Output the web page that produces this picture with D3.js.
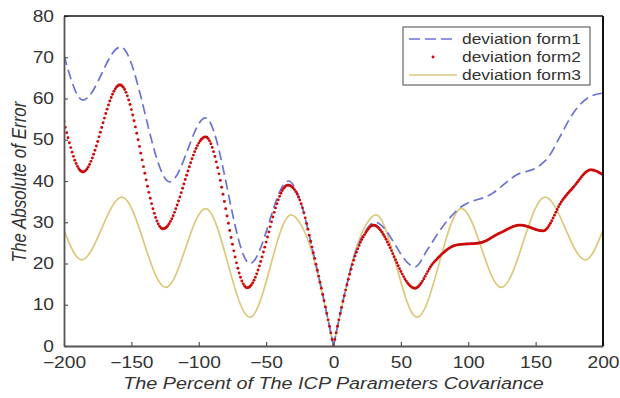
<!DOCTYPE html>
<html><head><meta charset="utf-8">
<script src="https://cdn.jsdelivr.net/npm/d3@7"></script>
<style>body{margin:0;background:#fff}</style>
</head><body>
<svg id="c" width="620" height="398"></svg>
<script>
const xTicks = [-200,-150,-100,-50,0,50,100,150,200];
const yTicks = [0,10,20,30,40,50,60,70,80];
const seriesNames = ["deviation form1","deviation form2","deviation form3"];

const form1X = [-200,-186,-158,-121.5,-95,-62,-33.5,-24,-16,-8,0,8,16,24,30.8,60.5,70,80,92,118,136,152,160,168,178,190,200];
const form1Y = [70.5,59.6,72.5,39.8,55.3,20,40,34.5,24,12.5,0,12.3,22.3,28,30,19.2,23.5,28.5,33,37,41.5,43.5,46,50.7,56.5,60.4,61.3];

const form2X = [-200,-186,-158.4,-126.5,-95,-64,-33.8,-24,-16,-8,0,8,16,24,29.5,60.5,74,91.6,108.7,123.6,138.4,155.5,170,178,191,200];
const form2Y = [54.3,42.2,63.3,28.4,50.7,14.1,39,34.5,24,12.5,0,12.2,21.8,27.5,29.3,14,20.1,24.5,25,27.4,29.3,27.9,35.4,38.5,42.7,41.5];

const form3X = [-200,-187,-157,-124.5,-95,-62,-31.5,-24,-16,-8,0,8,16,24,31.5,62,95,124.5,157,187,200];
const form3Y = [28.1,20.9,36.1,14.2,33.3,7,31.8,29.3,22.8,12.2,0,12.2,22.8,29.3,31.8,7,33.3,14.2,36.1,20.9,28.1];

const W = 620, H = 398;
const m = {l:64, t:16, r:17, b:52};
const svg = d3.select("#c");
const x = d3.scaleLinear().domain([-200,200]).range([m.l, W-m.r]);
const y = d3.scaleLinear().domain([0,80]).range([H-m.b, m.t]);

svg.append("defs").append("clipPath").attr("id","clip")
  .append("rect").attr("x",m.l).attr("y",m.t-2).attr("width",W-m.r-m.l).attr("height",H-m.b-m.t+2);

function toPts(xs, ys){ return xs.map((v,i)=>({x:v,y:ys[i]})); }
function split(pts){ return [pts.filter(p=>p.x<=0), pts.filter(p=>p.x>=0)]; }

// monotone cubic (same slopes as d3.curveMonotoneX)
function sgn(v){ return v<0?-1:1; }
function monotone(pts){
  const n=pts.length, t=new Array(n).fill(0);
  for(let i=1;i<n-1;i++){
    const h0=pts[i].x-pts[i-1].x, h1=pts[i+1].x-pts[i].x;
    const s0=(pts[i].y-pts[i-1].y)/h0, s1=(pts[i+1].y-pts[i].y)/h1;
    const p=(s0*h1+s1*h0)/(h0+h1);
    t[i]=(sgn(s0)+sgn(s1))*Math.min(Math.abs(s0),Math.abs(s1),0.5*Math.abs(p))||0;
  }
  if(n>2){
    let h=pts[1].x-pts[0].x; t[0]=(3*(pts[1].y-pts[0].y)/h - t[1])/2;
    h=pts[n-1].x-pts[n-2].x; t[n-1]=(3*(pts[n-1].y-pts[n-2].y)/h - t[n-2])/2;
  }
  return function(xv){
    let i=0; while(i<n-2 && xv>pts[i+1].x) i++;
    const x0=pts[i].x,x1=pts[i+1].x,h=x1-x0,s=(xv-x0)/h;
    const h00=2*s*s*s-3*s*s+1,h10=s*s*s-2*s*s+s,h01=-2*s*s*s+3*s*s,h11=s*s*s-s*s;
    return h00*pts[i].y+h10*h*t[i]+h01*pts[i+1].y+h11*h*t[i+1];
  };
}

const line = d3.line().x(d=>x(d.x)).y(d=>y(d.y)).curve(d3.curveMonotoneX);
const plot = svg.append("g").attr("clip-path","url(#clip)");

const c1="#6b72d4", c2="#cc0a0a", c3="#dcc87c";

// form3 (yellow solid)
split(toPts(form3X,form3Y)).forEach(seg=>{
  plot.append("path").datum(seg).attr("d",line).attr("fill","none")
    .attr("stroke",c3).attr("stroke-width",1.7);
});
// form1 (blue dashed)
split(toPts(form1X,form1Y)).forEach(seg=>{
  plot.append("path").datum(seg).attr("d",line).attr("fill","none")
    .attr("stroke",c1).attr("stroke-width",1.7).attr("stroke-dasharray","10,5");
});
// form2 (red dots, one per unit in x)
const f2 = split(toPts(form2X,form2Y)).map(monotone);
const dotXs = d3.range(-200,200.5,1);
plot.append("g").selectAll("circle").data(dotXs).join("circle")
  .attr("cx",d=>x(d)).attr("cy",d=>y(d<=0?f2[0](d):f2[1](d)))
  .attr("r",1.45).attr("fill",c2);

// axes
const fontFam = "'Liberation Sans', Arial, sans-serif";
const xAxis = svg.append("g").attr("transform",`translate(0,${H-m.b})`)
  .call(d3.axisBottom(x).tickValues(xTicks).tickSize(-4).tickPadding(11).tickSizeOuter(0));
const yAxis = svg.append("g").attr("transform",`translate(${m.l},0)`)
  .call(d3.axisLeft(y).tickValues(yTicks).tickSize(-4).tickSizeOuter(0));
[xAxis,yAxis].forEach(a=>{
  a.select(".domain").attr("stroke","#555").attr("stroke-width",1.8);
  a.selectAll(".tick line").attr("stroke","#555").attr("stroke-width",1.2);
  a.selectAll("text").attr("fill","#333").style("font-family",fontFam).style("font-size","16px");
});
xAxis.selectAll("text").attr("transform","scale(1.2,1)");
yAxis.selectAll("text").attr("x",0).attr("transform","translate(-10,0) scale(1.2,1)");

// top & right box
svg.append("line").attr("x1",m.l).attr("x2",W-m.r).attr("y1",m.t).attr("y2",m.t)
  .attr("stroke","#111").attr("stroke-width",1.6);
svg.append("line").attr("x1",W-m.r).attr("x2",W-m.r).attr("y1",m.t).attr("y2",H-m.b)
  .attr("stroke","#111").attr("stroke-width",2);

// titles
svg.append("text").attr("transform",`translate(${(m.l+W-m.r)/2},389) scale(1.2,1)`)
  .attr("text-anchor","middle").style("font-family",fontFam).style("font-style","italic")
  .style("font-size","16.5px").attr("fill","#333")
  .text("The Percent of The ICP Parameters Covariance");
svg.append("text").attr("transform",`translate(26,182) rotate(-90) scale(1,1.2)`)
  .attr("text-anchor","middle").style("font-family",fontFam).style("font-style","italic")
  .style("font-size","17px").attr("fill","#333")
  .text("The Absolute of Error");

// legend
const lg = svg.append("g").attr("transform","translate(403,27)");
lg.append("rect").attr("width",187).attr("height",58).attr("fill","#fff")
  .attr("stroke","#666").attr("stroke-width",1.2);
const rowsY=[12,30,48];
lg.append("line").attr("x1",6).attr("x2",54).attr("y1",rowsY[0]).attr("y2",rowsY[0])
  .attr("stroke",c1).attr("stroke-width",1.7).attr("stroke-dasharray","11,5");
lg.append("circle").attr("cx",30).attr("cy",rowsY[1]).attr("r",1.45).attr("fill",c2);
lg.append("line").attr("x1",6).attr("x2",54).attr("y1",rowsY[2]).attr("y2",rowsY[2])
  .attr("stroke",c3).attr("stroke-width",1.7);
lg.selectAll("text.l").data(seriesNames).join("text").attr("class","l")
  .attr("transform",(d,i)=>`translate(59,${rowsY[i]+5}) scale(1.2,1)`)
  .style("font-family",fontFam).style("font-size","14.5px").attr("fill","#333")
  .text(d=>d);
</script>
</body></html>
